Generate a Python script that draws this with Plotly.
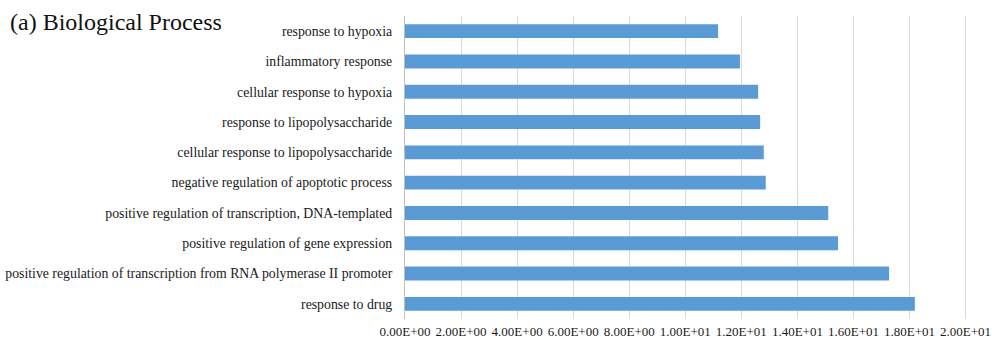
import plotly.graph_objects as go

categories = [
    "response to hypoxia",
    "inflammatory response",
    "cellular response to hypoxia",
    "response to lipopolysaccharide",
    "cellular response to lipopolysaccharide",
    "negative regulation of apoptotic process",
    "positive regulation of transcription, DNA-templated",
    "positive regulation of gene expression",
    "positive regulation of transcription from RNA polymerase II promoter",
    "response to drug",
]
values = [11.17, 11.95, 12.6, 12.67, 12.8, 12.87, 15.1, 15.45, 17.27, 18.19]
tick_vals = [0, 2, 4, 6, 8, 10, 12, 14, 16, 18, 20]
tick_text = ["0.00E+00", "2.00E+00", "4.00E+00", "6.00E+00", "8.00E+00", "1.00E+01",
             "1.20E+01", "1.40E+01", "1.60E+01", "1.80E+01", "2.00E+01"]

fig = go.Figure(go.Bar(
    x=values, y=categories, orientation="h",
    marker=dict(color="#5B9BD5", line=dict(width=0)),
    width=0.46,
))

fig.update_layout(
    width=992, height=341,
    margin=dict(l=405, r=25, t=16, b=22, autoexpand=False),
    paper_bgcolor="white", plot_bgcolor="white",
    showlegend=False,
    font=dict(family="Liberation Serif", color="#1a1a1a", size=13),
    xaxis=dict(range=[0, 20.05], tickvals=tick_vals, ticktext=tick_text,
               showgrid=True, gridcolor="#D9D9D9", gridwidth=1, zeroline=False,
               tickfont=dict(size=13), ticks="", showline=False, ticklabelstandoff=3,
               automargin=False),
    yaxis=dict(autorange="reversed", showline=True, linecolor="#BFBFBF", linewidth=1,
               ticks="", tickfont=dict(size=13.8), ticklabelstandoff=9, automargin=False),
)

fig.add_annotation(text="(a) Biological Process", xref="paper", yref="paper",
                   x=(8 - 405) / 562, y=0.98, xanchor="left", yanchor="middle",
                   showarrow=False, font=dict(family="Liberation Serif", size=24, color="#111111"))

fig.write_html("out.html")
